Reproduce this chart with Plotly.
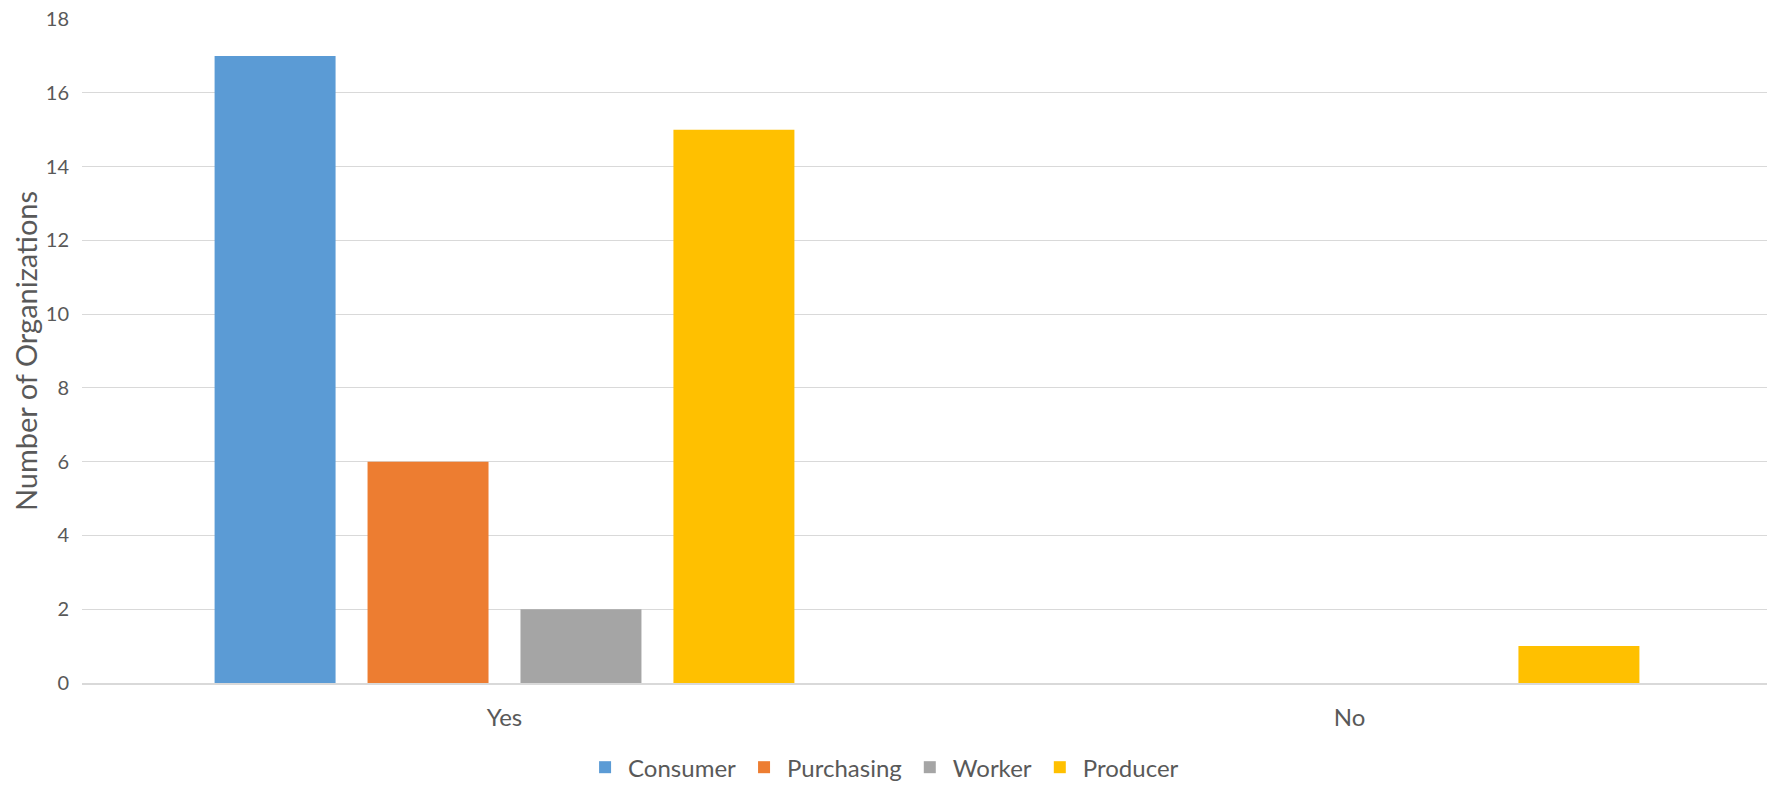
import plotly.graph_objects as go

categories = ["Yes", "No"]
series_names = ["Consumer", "Purchasing", "Worker", "Producer"]
consumer = [17, 0]
purchasing = [6, 0]
worker = [2, 0]
producer = [15, 1]
colors = ["#5B9BD5", "#ED7D31", "#A5A5A5", "#FFC000"]
y_ticks = [0, 2, 4, 6, 8, 10, 12, 14, 16, 18]

FONT = "Lato"
TXT = "#595959"

fig = go.Figure()
for name, vals, col in zip(series_names, [consumer, purchasing, worker, producer], colors):
    fig.add_trace(go.Bar(name=name, x=categories, y=vals, marker=dict(color=col, line=dict(width=0))))

# the page body has an 8px default margin, so layout offsets are reduced by 8px
fig.update_layout(
    width=1775, height=785,
    margin=dict(l=74, r=11, t=11, b=110, autoexpand=False),
    paper_bgcolor="white", plot_bgcolor="white",
    barmode="group", bargap=0.276, bargroupgap=0.209,
    font=dict(family=FONT, color=TXT),
    showlegend=True,
    legend=dict(orientation="h", x=0.2959, xanchor="left", y=-0.1274, yanchor="middle",
                font=dict(size=24, family=FONT, color=TXT), itemwidth=36, traceorder="normal"),
    xaxis=dict(showline=True, linecolor="#D9D9D9", linewidth=2, ticks="", showgrid=False,
               automargin=False,
               tickfont=dict(size=24, family=FONT, color=TXT), ticklabelstandoff=12),
    yaxis=dict(range=[0, 18], tickvals=y_ticks, showgrid=True, gridcolor="#D9D9D9", gridwidth=1,
               automargin=False, ticklabeloverflow="allow",
               zeroline=False, ticks="", tickfont=dict(size=20, family=FONT, color=TXT),
               ticklabelstandoff=12,
               title=dict(text="Number of Organizations", font=dict(size=29, family=FONT, color=TXT), standoff=21)),
)

fig.write_html("out.html")
